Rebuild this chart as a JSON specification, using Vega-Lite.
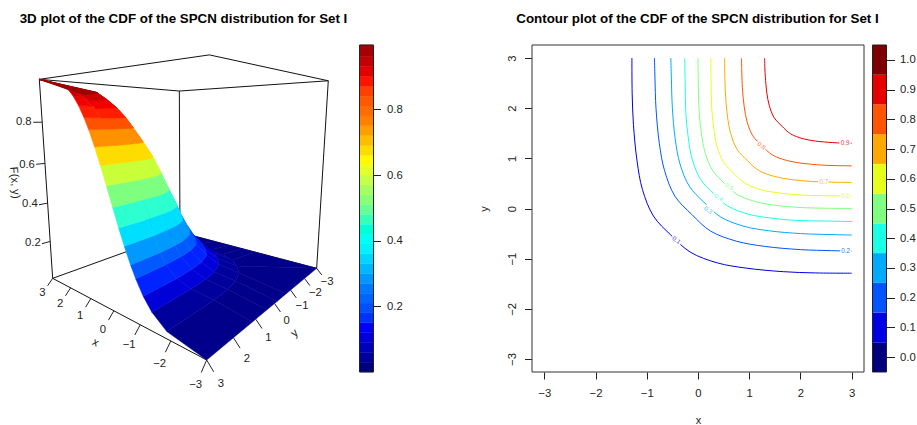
{"$schema":"https://vega.github.io/schema/vega-lite/v6.json","width":917,"height":425,"padding":0,"autosize":{"type":"none"},"background":"white",
"config":{"view":{"stroke":null},"axis":{"grid":false,"labelFont":"Liberation Sans","labelFontSize":11.3,"labelColor":"#222","tickColor":"#222","titleFont":"Liberation Sans","titleFontSize":11,"titleFontWeight":"normal","titleColor":"#222"},"text":{"font":"Liberation Sans","fontSize":11.3,"color":"#222"}},
"datasets":{
"d3":[
{"k":0,"i":10,"x":3,"y":-3,"F":0},{"k":0,"i":9,"x":1.16,"y":-3,"F":0},{"k":0,"i":8,"x":0.42,"y":-3,"F":0},{"k":0,"i":7,"x":-0.16,"y":-3,"F":0},{"k":0,"i":6,"x":-0.71,"y":-3,"F":0},{"k":0,"i":5,"x":-3,"y":-3,"F":0},{"k":0,"i":4,"x":-3,"y":-0.71,"F":0},{"k":0,"i":3,"x":-3,"y":-0.16,"F":0},{"k":0,"i":2,"x":-3,"y":0.42,"F":0},{"k":0,"i":1,"x":-3,"y":1.16,"F":0},{"k":0,"i":0,"x":-3,"y":3,"F":0},
{"k":1,"i":10,"x":3,"y":-1.88,"F":0.03},{"k":1,"i":9,"x":1.16,"y":-1.85,"F":0.03},{"k":1,"i":8,"x":0.42,"y":-1.78,"F":0.03},{"k":1,"i":7,"x":-0.16,"y":-1.67,"F":0.03},{"k":1,"i":6,"x":-0.71,"y":-1.45,"F":0.03},{"k":1,"i":5,"x":-1.1,"y":-1.1,"F":0.03},{"k":1,"i":4,"x":-1.45,"y":-0.71,"F":0.03},{"k":1,"i":3,"x":-1.67,"y":-0.16,"F":0.03},{"k":1,"i":2,"x":-1.78,"y":0.42,"F":0.03},{"k":1,"i":1,"x":-1.85,"y":1.16,"F":0.03},{"k":1,"i":0,"x":-1.88,"y":3,"F":0.03},
{"k":2,"i":10,"x":3,"y":-1.405,"F":0.08},{"k":2,"i":9,"x":1.54,"y":-1.375,"F":0.08},{"k":2,"i":8,"x":0.82,"y":-1.307,"F":0.08},{"k":2,"i":7,"x":0.256,"y":-1.2,"F":0.08},{"k":2,"i":6,"x":-0.27,"y":-0.99,"F":0.08},{"k":2,"i":5,"x":-0.65,"y":-0.65,"F":0.08},{"k":2,"i":4,"x":-0.99,"y":-0.27,"F":0.08},{"k":2,"i":3,"x":-1.2,"y":0.256,"F":0.08},{"k":2,"i":2,"x":-1.307,"y":0.82,"F":0.08},{"k":2,"i":1,"x":-1.375,"y":1.54,"F":0.08},{"k":2,"i":0,"x":-1.405,"y":3,"F":0.08},
{"k":3,"i":10,"x":3,"y":-1.126,"F":0.13},{"k":3,"i":9,"x":1.78,"y":-1.096,"F":0.13},{"k":3,"i":8,"x":1.075,"y":-1.03,"F":0.13},{"k":3,"i":7,"x":0.515,"y":-0.925,"F":0.13},{"k":3,"i":6,"x":-0.007,"y":-0.716,"F":0.13},{"k":3,"i":5,"x":-0.38,"y":-0.38,"F":0.13},{"k":3,"i":4,"x":-0.716,"y":-0.007,"F":0.13},{"k":3,"i":3,"x":-0.925,"y":0.515,"F":0.13},{"k":3,"i":2,"x":-1.03,"y":1.075,"F":0.13},{"k":3,"i":1,"x":-1.096,"y":1.78,"F":0.13},{"k":3,"i":0,"x":-1.126,"y":3,"F":0.13},
{"k":4,"i":10,"x":3,"y":-0.878,"F":0.19},{"k":4,"i":9,"x":1.94,"y":-0.85,"F":0.19},{"k":4,"i":8,"x":1.255,"y":-0.784,"F":0.19},{"k":4,"i":7,"x":0.713,"y":-0.683,"F":0.19},{"k":4,"i":6,"x":0.207,"y":-0.48,"F":0.19},{"k":4,"i":5,"x":-0.155,"y":-0.155,"F":0.19},{"k":4,"i":4,"x":-0.48,"y":0.207,"F":0.19},{"k":4,"i":3,"x":-0.683,"y":0.713,"F":0.19},{"k":4,"i":2,"x":-0.784,"y":1.255,"F":0.19},{"k":4,"i":1,"x":-0.85,"y":1.94,"F":0.19},{"k":4,"i":0,"x":-0.878,"y":3,"F":0.19},
{"k":5,"i":10,"x":3,"y":-0.706,"F":0.24},{"k":5,"i":9,"x":1.97,"y":-0.68,"F":0.24},{"k":5,"i":8,"x":1.318,"y":-0.617,"F":0.24},{"k":5,"i":7,"x":0.803,"y":-0.521,"F":0.24},{"k":5,"i":6,"x":0.323,"y":-0.329,"F":0.24},{"k":5,"i":5,"x":-0.02,"y":-0.02,"F":0.24},{"k":5,"i":4,"x":-0.329,"y":0.323,"F":0.24},{"k":5,"i":3,"x":-0.521,"y":0.803,"F":0.24},{"k":5,"i":2,"x":-0.617,"y":1.318,"F":0.24},{"k":5,"i":1,"x":-0.68,"y":1.97,"F":0.24},{"k":5,"i":0,"x":-0.706,"y":3,"F":0.24},
{"k":6,"i":10,"x":3,"y":-0.496,"F":0.31},{"k":6,"i":9,"x":1.98,"y":-0.47,"F":0.31},{"k":6,"i":8,"x":1.38,"y":-0.413,"F":0.31},{"k":6,"i":7,"x":0.9,"y":-0.324,"F":0.31},{"k":6,"i":6,"x":0.458,"y":-0.146,"F":0.31},{"k":6,"i":5,"x":0.14,"y":0.14,"F":0.31},{"k":6,"i":4,"x":-0.146,"y":0.458,"F":0.31},{"k":6,"i":3,"x":-0.324,"y":0.9,"F":0.31},{"k":6,"i":2,"x":-0.413,"y":1.38,"F":0.31},{"k":6,"i":1,"x":-0.47,"y":1.98,"F":0.31},{"k":6,"i":0,"x":-0.496,"y":3,"F":0.31},
{"k":7,"i":10,"x":3,"y":-0.305,"F":0.38},{"k":7,"i":9,"x":1.92,"y":-0.28,"F":0.38},{"k":7,"i":8,"x":1.377,"y":-0.23,"F":0.38},{"k":7,"i":7,"x":0.949,"y":-0.151,"F":0.38},{"k":7,"i":6,"x":0.55,"y":0.009,"F":0.38},{"k":7,"i":5,"x":0.265,"y":0.265,"F":0.38},{"k":7,"i":4,"x":0.009,"y":0.55,"F":0.38},{"k":7,"i":3,"x":-0.151,"y":0.949,"F":0.38},{"k":7,"i":2,"x":-0.23,"y":1.377,"F":0.38},{"k":7,"i":1,"x":-0.28,"y":1.92,"F":0.38},{"k":7,"i":0,"x":-0.305,"y":3,"F":0.38},
{"k":8,"i":10,"x":3,"y":-0.1,"F":0.46},{"k":8,"i":9,"x":1.97,"y":-0.08,"F":0.46},{"k":8,"i":8,"x":1.46,"y":-0.03,"F":0.46},{"k":8,"i":7,"x":1.066,"y":0.043,"F":0.46},{"k":8,"i":6,"x":0.695,"y":0.19,"F":0.46},{"k":8,"i":5,"x":0.43,"y":0.43,"F":0.46},{"k":8,"i":4,"x":0.19,"y":0.695,"F":0.46},{"k":8,"i":3,"x":0.043,"y":1.066,"F":0.46},{"k":8,"i":2,"x":-0.03,"y":1.46,"F":0.46},{"k":8,"i":1,"x":-0.08,"y":1.97,"F":0.46},{"k":8,"i":0,"x":-0.1,"y":3,"F":0.46},
{"k":9,"i":10,"x":3,"y":0.113,"F":0.545},{"k":9,"i":9,"x":1.99,"y":0.132,"F":0.545},{"k":9,"i":8,"x":1.535,"y":0.176,"F":0.545},{"k":9,"i":7,"x":1.173,"y":0.243,"F":0.545},{"k":9,"i":6,"x":0.836,"y":0.378,"F":0.545},{"k":9,"i":5,"x":0.595,"y":0.595,"F":0.545},{"k":9,"i":4,"x":0.378,"y":0.836,"F":0.545},{"k":9,"i":3,"x":0.243,"y":1.173,"F":0.545},{"k":9,"i":2,"x":0.176,"y":1.535,"F":0.545},{"k":9,"i":1,"x":0.132,"y":1.99,"F":0.545},{"k":9,"i":0,"x":0.113,"y":3,"F":0.545},
{"k":10,"i":10,"x":3,"y":0.319,"F":0.625},{"k":10,"i":9,"x":2.04,"y":0.337,"F":0.625},{"k":10,"i":8,"x":1.62,"y":0.376,"F":0.625},{"k":10,"i":7,"x":1.289,"y":0.438,"F":0.625},{"k":10,"i":6,"x":0.98,"y":0.562,"F":0.625},{"k":10,"i":5,"x":0.76,"y":0.76,"F":0.625},{"k":10,"i":4,"x":0.562,"y":0.98,"F":0.625},{"k":10,"i":3,"x":0.438,"y":1.289,"F":0.625},{"k":10,"i":2,"x":0.376,"y":1.62,"F":0.625},{"k":10,"i":1,"x":0.337,"y":2.04,"F":0.625},{"k":10,"i":0,"x":0.319,"y":3,"F":0.625},
{"k":11,"i":10,"x":3,"y":0.524,"F":0.7},{"k":11,"i":9,"x":2.22,"y":0.541,"F":0.7},{"k":11,"i":8,"x":1.81,"y":0.581,"F":0.7},{"k":11,"i":7,"x":1.483,"y":0.642,"F":0.7},{"k":11,"i":6,"x":1.178,"y":0.764,"F":0.7},{"k":11,"i":5,"x":0.96,"y":0.96,"F":0.7},{"k":11,"i":4,"x":0.764,"y":1.178,"F":0.7},{"k":11,"i":3,"x":0.642,"y":1.483,"F":0.7},{"k":11,"i":2,"x":0.581,"y":1.81,"F":0.7},{"k":11,"i":1,"x":0.541,"y":2.22,"F":0.7},{"k":11,"i":0,"x":0.524,"y":3,"F":0.7},
{"k":12,"i":10,"x":3,"y":0.739,"F":0.77},{"k":12,"i":9,"x":2.38,"y":0.756,"F":0.77},{"k":12,"i":8,"x":1.98,"y":0.794,"F":0.77},{"k":12,"i":7,"x":1.665,"y":0.853,"F":0.77},{"k":12,"i":6,"x":1.37,"y":0.971,"F":0.77},{"k":12,"i":5,"x":1.16,"y":1.16,"F":0.77},{"k":12,"i":4,"x":0.971,"y":1.37,"F":0.77},{"k":12,"i":3,"x":0.853,"y":1.665,"F":0.77},{"k":12,"i":2,"x":0.794,"y":1.98,"F":0.77},{"k":12,"i":1,"x":0.756,"y":2.38,"F":0.77},{"k":12,"i":0,"x":0.739,"y":3,"F":0.77},
{"k":13,"i":10,"x":3,"y":0.915,"F":0.82},{"k":13,"i":9,"x":2.46,"y":0.931,"F":0.82},{"k":13,"i":8,"x":2.08,"y":0.966,"F":0.82},{"k":13,"i":7,"x":1.784,"y":1.022,"F":0.82},{"k":13,"i":6,"x":1.508,"y":1.132,"F":0.82},{"k":13,"i":5,"x":1.31,"y":1.31,"F":0.82},{"k":13,"i":4,"x":1.132,"y":1.508,"F":0.82},{"k":13,"i":3,"x":1.022,"y":1.784,"F":0.82},{"k":13,"i":2,"x":0.966,"y":2.08,"F":0.82},{"k":13,"i":1,"x":0.931,"y":2.46,"F":0.82},{"k":13,"i":0,"x":0.915,"y":3,"F":0.82},
{"k":14,"i":10,"x":3,"y":1.126,"F":0.87},{"k":14,"i":9,"x":2.59,"y":1.141,"F":0.87},{"k":14,"i":8,"x":2.23,"y":1.175,"F":0.87},{"k":14,"i":7,"x":1.949,"y":1.227,"F":0.87},{"k":14,"i":6,"x":1.687,"y":1.332,"F":0.87},{"k":14,"i":5,"x":1.5,"y":1.5,"F":0.87},{"k":14,"i":4,"x":1.332,"y":1.687,"F":0.87},{"k":14,"i":3,"x":1.227,"y":1.949,"F":0.87},{"k":14,"i":2,"x":1.175,"y":2.23,"F":0.87},{"k":14,"i":1,"x":1.141,"y":2.59,"F":0.87},{"k":14,"i":0,"x":1.126,"y":3,"F":0.87},
{"k":15,"i":10,"x":3,"y":1.34,"F":0.91},{"k":15,"i":9,"x":2.74,"y":1.354,"F":0.91},{"k":15,"i":8,"x":2.4,"y":1.387,"F":0.91},{"k":15,"i":7,"x":2.13,"y":1.437,"F":0.91},{"k":15,"i":6,"x":1.88,"y":1.538,"F":0.91},{"k":15,"i":5,"x":1.7,"y":1.7,"F":0.91},{"k":15,"i":4,"x":1.538,"y":1.88,"F":0.91},{"k":15,"i":3,"x":1.437,"y":2.13,"F":0.91},{"k":15,"i":2,"x":1.387,"y":2.4,"F":0.91},{"k":15,"i":1,"x":1.354,"y":2.74,"F":0.91},{"k":15,"i":0,"x":1.34,"y":3,"F":0.91},
{"k":16,"i":10,"x":3,"y":1.555,"F":0.94},{"k":16,"i":9,"x":2.82,"y":1.568,"F":0.94},{"k":16,"i":8,"x":2.51,"y":1.597,"F":0.94},{"k":16,"i":7,"x":2.27,"y":1.643,"F":0.94},{"k":16,"i":6,"x":2.04,"y":1.734,"F":0.94},{"k":16,"i":5,"x":1.88,"y":1.88,"F":0.94},{"k":16,"i":4,"x":1.734,"y":2.04,"F":0.94},{"k":16,"i":3,"x":1.643,"y":2.27,"F":0.94},{"k":16,"i":2,"x":1.597,"y":2.51,"F":0.94},{"k":16,"i":1,"x":1.568,"y":2.82,"F":0.94},{"k":16,"i":0,"x":1.555,"y":3,"F":0.94},
{"k":17,"i":10,"x":3,"y":3,"F":1},{"k":17,"i":9,"x":3,"y":3,"F":1},{"k":17,"i":8,"x":3,"y":3,"F":1},{"k":17,"i":7,"x":3,"y":3,"F":1},{"k":17,"i":6,"x":3,"y":3,"F":1},{"k":17,"i":5,"x":3,"y":3,"F":1},{"k":17,"i":4,"x":3,"y":3,"F":1},{"k":17,"i":3,"x":3,"y":3,"F":1},{"k":17,"i":2,"x":3,"y":3,"F":1},{"k":17,"i":1,"x":3,"y":3,"F":1},{"k":17,"i":0,"x":3,"y":3,"F":1},
{"edge":"t1","i":0,"x":3,"y":3,"F":1},{"edge":"t1","i":1,"x":-3,"y":3,"F":1},
{"edge":"t2","i":0,"x":-3,"y":3,"F":1},{"edge":"t2","i":1,"x":-3,"y":-3,"F":1},
{"edge":"t3","i":0,"x":-3,"y":-3,"F":1},{"edge":"t3","i":1,"x":3,"y":-3,"F":1},
{"edge":"t4","i":0,"x":3,"y":-3,"F":1},{"edge":"t4","i":1,"x":3,"y":3,"F":1},
{"edge":"v1","i":0,"x":3,"y":3,"F":1},{"edge":"v1","i":1,"x":3,"y":3,"F":0},
{"edge":"v2","i":0,"x":-3,"y":-3,"F":1},{"edge":"v2","i":1,"x":-3,"y":-3,"F":0},
{"edge":"v3","i":0,"x":3,"y":-3,"F":1},{"edge":"v3","i":1,"x":3,"y":-3,"F":0},
{"edge":"f1","i":0,"x":3,"y":3,"F":0},{"edge":"f1","i":1,"x":3,"y":-3,"F":0},
{"edge":"f2","i":0,"x":3,"y":-3,"F":0},{"edge":"f2","i":1,"x":-3,"y":-3,"F":0},
{"front":"a","i":0,"x":3,"y":3,"F":0},{"front":"a","i":1,"x":-3,"y":3,"F":0},
{"tick":"x3","i":0,"x":3,"y":3,"F":0},{"tick":"x3","i":1,"x":3,"y":3.18,"F":-0.03},
{"tick":"x2","i":0,"x":2,"y":3,"F":0},{"tick":"x2","i":1,"x":2,"y":3.18,"F":-0.03},
{"tick":"x1","i":0,"x":1,"y":3,"F":0},{"tick":"x1","i":1,"x":1,"y":3.18,"F":-0.03},
{"tick":"x0","i":0,"x":0,"y":3,"F":0},{"tick":"x0","i":1,"x":0,"y":3.18,"F":-0.03},
{"tick":"x-1","i":0,"x":-1,"y":3,"F":0},{"tick":"x-1","i":1,"x":-1,"y":3.18,"F":-0.03},
{"tick":"x-2","i":0,"x":-2,"y":3,"F":0},{"tick":"x-2","i":1,"x":-2,"y":3.18,"F":-0.03},
{"tick":"x-3","i":0,"x":-3,"y":3,"F":0},{"tick":"x-3","i":1,"x":-3,"y":3.18,"F":-0.03},
{"tick":"y3","i":0,"x":-3,"y":3,"F":0},{"tick":"y3","i":1,"x":-3.18,"y":3,"F":-0.03},
{"tick":"y2","i":0,"x":-3,"y":2,"F":0},{"tick":"y2","i":1,"x":-3.18,"y":2,"F":-0.03},
{"tick":"y1","i":0,"x":-3,"y":1,"F":0},{"tick":"y1","i":1,"x":-3.18,"y":1,"F":-0.03},
{"tick":"y0","i":0,"x":-3,"y":0,"F":0},{"tick":"y0","i":1,"x":-3.18,"y":0,"F":-0.03},
{"tick":"y-1","i":0,"x":-3,"y":-1,"F":0},{"tick":"y-1","i":1,"x":-3.18,"y":-1,"F":-0.03},
{"tick":"y-2","i":0,"x":-3,"y":-2,"F":0},{"tick":"y-2","i":1,"x":-3.18,"y":-2,"F":-0.03},
{"tick":"y-3","i":0,"x":-3,"y":-3,"F":0},{"tick":"y-3","i":1,"x":-3.18,"y":-3,"F":-0.03},
{"tick":"z2","i":0,"x":3,"y":3,"F":0.2},{"tick":"z2","i":1,"x":3,"y":3.27,"F":0.2},
{"tick":"z4","i":0,"x":3,"y":3,"F":0.4},{"tick":"z4","i":1,"x":3,"y":3.27,"F":0.4},
{"tick":"z6","i":0,"x":3,"y":3,"F":0.6},{"tick":"z6","i":1,"x":3,"y":3.27,"F":0.6},
{"tick":"z8","i":0,"x":3,"y":3,"F":0.8},{"tick":"z8","i":1,"x":3,"y":3.27,"F":0.8},
{"text":"3","x":3,"y":3.36,"F":-0.06},{"text":"2","x":2,"y":3.36,"F":-0.06},{"text":"1","x":1,"y":3.36,"F":-0.06},{"text":"0","x":0,"y":3.36,"F":-0.06},{"text":"−1","x":-1,"y":3.36,"F":-0.06},{"text":"−2","x":-2,"y":3.36,"F":-0.06},{"text":"−3","x":-3,"y":3.36,"F":-0.06},
{"text":"3","x":-3.36,"y":3,"F":-0.06},{"text":"2","x":-3.36,"y":2,"F":-0.06},{"text":"1","x":-3.36,"y":1,"F":-0.06},{"text":"0","x":-3.36,"y":0,"F":-0.06},{"text":"−1","x":-3.36,"y":-1,"F":-0.06},{"text":"−2","x":-3.36,"y":-2,"F":-0.06},{"text":"−3","x":-3.36,"y":-3,"F":-0.06},
{"text":"0.2","x":3,"y":3.54,"F":0.215},{"text":"0.4","x":3,"y":3.54,"F":0.41},{"text":"0.6","x":3,"y":3.54,"F":0.6},{"text":"0.8","x":3,"y":3.54,"F":0.8},
{"name":"x","x":0,"y":3.6,"F":-0.1},{"name":"y","x":-3.6,"y":0,"F":-0.105},{"name":"F(x, y)","x":3,"y":3.93,"F":0.525}
],
"lines":[
{"level":0.1,"i":0,"x":-1.29,"y":3},{"level":0.1,"i":1,"x":-1.285,"y":2.3},{"level":0.1,"i":2,"x":-1.26,"y":1.67},{"level":0.1,"i":3,"x":-1.19,"y":0.95},{"level":0.1,"i":4,"x":-1.085,"y":0.38},{"level":0.1,"i":5,"x":-0.87,"y":-0.15},{"level":0.1,"i":6,"x":-0.53,"y":-0.53},{"level":0.1,"i":7,"x":-0.15,"y":-0.87},{"level":0.1,"i":8,"x":0.38,"y":-1.085},{"level":0.1,"i":9,"x":0.95,"y":-1.19},{"level":0.1,"i":10,"x":1.67,"y":-1.26},{"level":0.1,"i":11,"x":2.3,"y":-1.285},{"level":0.1,"i":12,"x":3,"y":-1.29},
{"level":0.2,"i":0,"x":-0.85,"y":3},{"level":0.2,"i":1,"x":-0.84,"y":2.6},{"level":0.2,"i":2,"x":-0.82,"y":2},{"level":0.2,"i":3,"x":-0.755,"y":1.3},{"level":0.2,"i":4,"x":-0.653,"y":0.756},{"level":0.2,"i":5,"x":-0.45,"y":0.245},{"level":0.2,"i":6,"x":-0.12,"y":-0.12},{"level":0.2,"i":7,"x":0.245,"y":-0.45},{"level":0.2,"i":8,"x":0.756,"y":-0.653},{"level":0.2,"i":9,"x":1.3,"y":-0.755},{"level":0.2,"i":10,"x":2,"y":-0.82},{"level":0.2,"i":11,"x":2.6,"y":-0.84},{"level":0.2,"i":12,"x":3,"y":-0.85},
{"level":0.3,"i":0,"x":-0.53,"y":3},{"level":0.3,"i":1,"x":-0.52,"y":2.6},{"level":0.3,"i":2,"x":-0.5,"y":2},{"level":0.3,"i":3,"x":-0.445,"y":1.39},{"level":0.3,"i":4,"x":-0.355,"y":0.9},{"level":0.3,"i":5,"x":-0.17,"y":0.445},{"level":0.3,"i":6,"x":0.12,"y":0.12},{"level":0.3,"i":7,"x":0.445,"y":-0.17},{"level":0.3,"i":8,"x":0.9,"y":-0.355},{"level":0.3,"i":9,"x":1.39,"y":-0.445},{"level":0.3,"i":10,"x":2,"y":-0.5},{"level":0.3,"i":11,"x":2.6,"y":-0.52},{"level":0.3,"i":12,"x":3,"y":-0.53},
{"level":0.4,"i":0,"x":-0.26,"y":3},{"level":0.4,"i":1,"x":-0.25,"y":2.5},{"level":0.4,"i":2,"x":-0.238,"y":1.92},{"level":0.4,"i":3,"x":-0.187,"y":1.39},{"level":0.4,"i":4,"x":-0.11,"y":0.97},{"level":0.4,"i":5,"x":0.05,"y":0.58},{"level":0.4,"i":6,"x":0.3,"y":0.3},{"level":0.4,"i":7,"x":0.58,"y":0.05},{"level":0.4,"i":8,"x":0.97,"y":-0.11},{"level":0.4,"i":9,"x":1.39,"y":-0.187},{"level":0.4,"i":10,"x":1.92,"y":-0.238},{"level":0.4,"i":11,"x":2.5,"y":-0.25},{"level":0.4,"i":12,"x":3,"y":-0.26},
{"level":0.5,"i":0,"x":0,"y":3},{"level":0.5,"i":1,"x":0.005,"y":2.5},{"level":0.5,"i":2,"x":0.02,"y":1.99},{"level":0.5,"i":3,"x":0.066,"y":1.5},{"level":0.5,"i":4,"x":0.138,"y":1.12},{"level":0.5,"i":5,"x":0.28,"y":0.765},{"level":0.5,"i":6,"x":0.51,"y":0.51},{"level":0.5,"i":7,"x":0.765,"y":0.28},{"level":0.5,"i":8,"x":1.12,"y":0.138},{"level":0.5,"i":9,"x":1.5,"y":0.066},{"level":0.5,"i":10,"x":1.99,"y":0.02},{"level":0.5,"i":11,"x":2.5,"y":0.005},{"level":0.5,"i":12,"x":3,"y":0},
{"level":0.6,"i":0,"x":0.25,"y":3},{"level":0.6,"i":1,"x":0.255,"y":2.5},{"level":0.6,"i":2,"x":0.268,"y":2},{"level":0.6,"i":3,"x":0.31,"y":1.58},{"level":0.6,"i":4,"x":0.37,"y":1.24},{"level":0.6,"i":5,"x":0.4975,"y":0.925},{"level":0.6,"i":6,"x":0.7,"y":0.7},{"level":0.6,"i":7,"x":0.925,"y":0.4975},{"level":0.6,"i":8,"x":1.24,"y":0.37},{"level":0.6,"i":9,"x":1.58,"y":0.31},{"level":0.6,"i":10,"x":2,"y":0.268},{"level":0.6,"i":11,"x":2.5,"y":0.255},{"level":0.6,"i":12,"x":3,"y":0.25},
{"level":0.7,"i":0,"x":0.52,"y":3},{"level":0.7,"i":1,"x":0.525,"y":2.6},{"level":0.7,"i":2,"x":0.538,"y":2.24},{"level":0.7,"i":3,"x":0.577,"y":1.82},{"level":0.7,"i":4,"x":0.64,"y":1.49},{"level":0.7,"i":5,"x":0.762,"y":1.18},{"level":0.7,"i":6,"x":0.96,"y":0.96},{"level":0.7,"i":7,"x":1.18,"y":0.762},{"level":0.7,"i":8,"x":1.49,"y":0.64},{"level":0.7,"i":9,"x":1.82,"y":0.577},{"level":0.7,"i":10,"x":2.24,"y":0.538},{"level":0.7,"i":11,"x":2.6,"y":0.525},{"level":0.7,"i":12,"x":3,"y":0.52},
{"level":0.8,"i":0,"x":0.85,"y":3},{"level":0.8,"i":1,"x":0.855,"y":2.7},{"level":0.8,"i":2,"x":0.866,"y":2.41},{"level":0.8,"i":3,"x":0.902,"y":2.03},{"level":0.8,"i":4,"x":0.958,"y":1.73},{"level":0.8,"i":5,"x":1.07,"y":1.45},{"level":0.8,"i":6,"x":1.25,"y":1.25},{"level":0.8,"i":7,"x":1.45,"y":1.07},{"level":0.8,"i":8,"x":1.73,"y":0.958},{"level":0.8,"i":9,"x":2.03,"y":0.902},{"level":0.8,"i":10,"x":2.41,"y":0.866},{"level":0.8,"i":11,"x":2.7,"y":0.855},{"level":0.8,"i":12,"x":3,"y":0.85},
{"level":0.9,"i":0,"x":1.3,"y":3},{"level":0.9,"i":1,"x":1.305,"y":2.8},{"level":0.9,"i":2,"x":1.314,"y":2.63},{"level":0.9,"i":3,"x":1.344,"y":2.3},{"level":0.9,"i":4,"x":1.392,"y":2.05},{"level":0.9,"i":5,"x":1.487,"y":1.81},{"level":0.9,"i":6,"x":1.64,"y":1.64},{"level":0.9,"i":7,"x":1.81,"y":1.487},{"level":0.9,"i":8,"x":2.05,"y":1.392},{"level":0.9,"i":9,"x":2.3,"y":1.344},{"level":0.9,"i":10,"x":2.63,"y":1.314},{"level":0.9,"i":11,"x":2.8,"y":1.305},{"level":0.9,"i":12,"x":3,"y":1.3}
],
"lineLabels":[
{"level":0.1,"label":"0.1","x":-0.42,"y":-0.63},{"level":0.2,"label":"0.2","x":2.88,"y":-0.855},{"level":0.3,"label":"0.3","x":0.2,"y":-0.03},{"level":0.4,"label":"0.4","x":0.407,"y":0.216},{"level":0.5,"label":"0.5","x":0.615,"y":0.435},{"level":0.6,"label":"0.6","x":2.88,"y":0.256},{"level":0.7,"label":"0.7","x":2.457,"y":0.535},{"level":0.8,"label":"0.8","x":1.24,"y":1.254},{"level":0.9,"label":"0.9","x":2.87,"y":1.3}
],
"bar3d":[
{"lo":0,"hi":0.03},{"lo":0.03,"hi":0.06},{"lo":0.06,"hi":0.09},{"lo":0.09,"hi":0.12},{"lo":0.12,"hi":0.15},{"lo":0.15,"hi":0.18},{"lo":0.18,"hi":0.21},{"lo":0.21,"hi":0.24},{"lo":0.24,"hi":0.27},{"lo":0.27,"hi":0.3},{"lo":0.3,"hi":0.33},{"lo":0.33,"hi":0.36},{"lo":0.36,"hi":0.39},{"lo":0.39,"hi":0.42},{"lo":0.42,"hi":0.45},{"lo":0.45,"hi":0.48},{"lo":0.48,"hi":0.51},{"lo":0.51,"hi":0.54},{"lo":0.54,"hi":0.57},{"lo":0.57,"hi":0.6},{"lo":0.6,"hi":0.63},{"lo":0.63,"hi":0.66},{"lo":0.66,"hi":0.69},{"lo":0.69,"hi":0.72},{"lo":0.72,"hi":0.75},{"lo":0.75,"hi":0.78},{"lo":0.78,"hi":0.81},{"lo":0.81,"hi":0.84},{"lo":0.84,"hi":0.87},{"lo":0.87,"hi":0.9},{"lo":0.9,"hi":0.93},{"lo":0.93,"hi":0.96},{"lo":0.96,"hi":0.996}
],
"barContour":[
{"level":0,"lo":-0.05,"hi":0.05},{"level":0.1,"lo":0.05,"hi":0.15},{"level":0.2,"lo":0.15,"hi":0.25},{"level":0.3,"lo":0.25,"hi":0.35},{"level":0.4,"lo":0.35,"hi":0.45},{"level":0.5,"lo":0.45,"hi":0.55},{"level":0.6,"lo":0.55,"hi":0.65},{"level":0.7,"lo":0.65,"hi":0.75},{"level":0.8,"lo":0.75,"hi":0.85},{"level":0.9,"lo":0.85,"hi":0.95},{"level":1,"lo":0.95,"hi":1.05}
]
},
"layer":[
{"data":{"name":"d3"},
 "transform":[
  {"calculate":"(3-datum.x)/6","as":"u"},{"calculate":"(3-datum.y)/6","as":"v"},
  {"calculate":"1-0.3407*datum.u+0.401*datum.v-0.0888*datum.F","as":"D"},
  {"calculate":"(158+250.8*datum.u+598.5*datum.v-50.5*datum.F)/datum.D","as":"sx"},
  {"calculate":"(745-92.3*datum.u+105.4*datum.v-610.1*datum.F)/datum.D","as":"sy"}],
 "encoding":{
  "x":{"field":"sx","type":"quantitative","scale":{"domain":[0,1020],"range":[0,340],"nice":false,"zero":false},"axis":{"orient":"top","title":"3D plot of the CDF of the SPCN distribution for Set I","titleFont":"Liberation Sans","titleFontWeight":"bold","titleFontSize":13.35,"titleColor":"#000","titleX":183,"titleY":22,"titleBaseline":"alphabetic","labels":false,"ticks":false,"domain":false}},
  "y":{"field":"sy","type":"quantitative","scale":{"domain":[0,1140],"range":[30,410],"nice":false,"zero":false},"axis":null}},
 "layer":[
  {"transform":[{"filter":"isValid(datum.edge)"}],"mark":{"type":"line","stroke":"#111","strokeWidth":1},"encoding":{"detail":{"field":"edge"},"order":{"field":"i"}}},
  {"transform":[{"filter":"isValid(datum.k)"},{"calculate":"[datum.k,datum.k-1]","as":"band"},{"flatten":["band"]},{"filter":"datum.band>=0&&datum.band<=16"},{"calculate":"[datum.i,datum.i-1]","as":"seg"},{"flatten":["seg"]},{"filter":"datum.seg>=0&&datum.seg<=9"},{"calculate":"datum.band==datum.k?datum.i:1000-datum.i","as":"ord"},{"calculate":"datum.band+'_'+datum.seg","as":"quad"}],
   "mark":{"type":"line","interpolate":"linear-closed","strokeWidth":0.5},
   "encoding":{"detail":{"field":"quad"},"order":{"field":"ord"},
    "fill":{"field":"band","type":"nominal","legend":null,"scale":{"domain":[0,1,2,3,4,5,6,7,8,9,10,11,12,13,14,15,16],"range":["#00008b","#00009c","#0000d8","#0023ff","#005aff","#0099ff","#00dfff","#2dffd1","#7fff7f","#c8ff38","#ffdc00","#ff9000","#ff5200","#ff1e00","#f00000","#cc0000","#9e0000"]}},
    "stroke":{"field":"band","type":"nominal","legend":null,"scale":{"domain":[0,1,2,3,4,5,6,7,8,9,10,11,12,13,14,15,16],"range":["#00008b","#00009c","#0000d8","#0023ff","#005aff","#0099ff","#00dfff","#2dffd1","#7fff7f","#c8ff38","#ffdc00","#ff9000","#ff5200","#ff1e00","#f00000","#cc0000","#9e0000"]}}}},
  {"transform":[{"filter":"isValid(datum.front)"}],"mark":{"type":"line","stroke":"#111","strokeWidth":1},"encoding":{"detail":{"field":"front"},"order":{"field":"i"}}},
  {"transform":[{"filter":"isValid(datum.tick)"}],"mark":{"type":"line","stroke":"#222","strokeWidth":1},"encoding":{"detail":{"field":"tick"},"order":{"field":"i"}}},
  {"transform":[{"filter":"isValid(datum.text)"}],"mark":{"type":"text"},"encoding":{"text":{"field":"text"}}},
  {"transform":[{"filter":"isValid(datum.name)"}],"mark":{"type":"text"},"encoding":{"text":{"field":"name"},"angle":{"condition":[{"test":"datum.name=='x'","value":28},{"test":"datum.name=='y'","value":320}],"value":85}}}
 ]},
{"data":{"name":"bar3d"},
 "encoding":{
  "x":{"datum":0,"type":"quantitative","scale":{"domain":[0,1],"range":[359.5,373.5],"nice":false,"zero":false},"axis":null},
  "x2":{"datum":1},
  "y":{"field":"lo","type":"quantitative","scale":{"domain":[0,0.996],"range":[372,45],"nice":false,"zero":false},"axis":{"orient":"right","offset":-543.5,"values":[0.2,0.4,0.6,0.8],"format":".1f","title":null,"domain":false,"tickSize":7,"labelPadding":6}},
  "y2":{"field":"hi"}},
 "layer":[
  {"mark":{"type":"rect","strokeWidth":0.4},"encoding":{
    "color":{"field":"lo","type":"quantitative","legend":null,"scale":{"domain":[0,0.125,0.25,0.375,0.5,0.625,0.75,0.875,1],"range":["#00007f","#0000ff","#007fff","#00ffff","#7fff7f","#ffff00","#ff7f00","#ff0000","#7f0000"]}},
    "stroke":{"field":"lo","type":"quantitative","legend":null,"scale":{"domain":[0,0.125,0.25,0.375,0.5,0.625,0.75,0.875,1],"range":["#00007f","#0000ff","#007fff","#00ffff","#7fff7f","#ffff00","#ff7f00","#ff0000","#7f0000"]}}}},
  {"data":{"values":[{"lo":0,"hi":0.996}]},"mark":{"type":"rect","fill":null,"stroke":"#222","strokeWidth":1}}
 ]},
{"data":{"values":[{"x":-3.24,"x2":3.24,"y":-3.26,"y2":3.26}]},
 "mark":{"type":"rect","fill":null,"stroke":"#333","strokeWidth":1},
 "encoding":{
  "x":{"field":"x","type":"quantitative","scale":{"domain":[-3.24,3.24],"range":[532,864],"nice":false,"zero":false},"axis":{"orient":"top","title":"Contour plot of the CDF of the SPCN distribution for Set I","titleFont":"Liberation Sans","titleFontWeight":"bold","titleFontSize":13.35,"titleColor":"#000","titleX":697,"titleY":22,"titleBaseline":"alphabetic","labels":false,"ticks":false,"domain":false}},
  "x2":{"field":"x2"},
  "y":{"field":"y","type":"quantitative","scale":{"domain":[-3.26,3.26],"range":[372,45],"nice":false,"zero":false},"axis":null},
  "y2":{"field":"y2"}}},
{"encoding":{
  "x":{"field":"x","type":"quantitative","scale":{"domain":[-3.24,3.24],"range":[532,864],"nice":false,"zero":false},"axis":{"orient":"bottom","offset":-53,"values":[-3,-2,-1,0,1,2,3],"title":"x","domain":false,"tickSize":7,"labelPadding":8,"titlePadding":16}},
  "y":{"field":"y","type":"quantitative","scale":{"domain":[-3.26,3.26],"range":[372,45],"nice":false,"zero":false},"axis":{"orient":"left","offset":-531.5,"values":[-3,-2,-1,0,1,2,3],"title":"y","domain":false,"tickSize":7,"labelAngle":270,"labelAlign":"center","labelBaseline":"bottom","labelPadding":7,"titlePadding":17}}},
 "layer":[
  {"data":{"name":"lines"},"mark":{"type":"line","interpolate":"catmull-rom","strokeWidth":1},"encoding":{"detail":{"field":"level"},"order":{"field":"i"},
    "color":{"field":"level","type":"nominal","legend":null,"scale":{"domain":[0.1,0.2,0.3,0.4,0.5,0.6,0.7,0.8,0.9],"range":["#0000e6","#0055ff","#00aaff","#1affe5","#80ff80","#e5ff1a","#ffaa00","#ff5500","#e60000"]}}}},
  {"data":{"name":"lineLabels"},"mark":{"type":"text","fontSize":6.3,"stroke":"white","strokeWidth":3},"encoding":{"text":{"field":"label"},"angle":{"condition":{"test":"datum.x<2","value":35},"value":0}}},
  {"data":{"name":"lineLabels"},"mark":{"type":"text","fontSize":6.3,"opacity":0.8},"encoding":{"text":{"field":"label"},"angle":{"condition":{"test":"datum.x<2","value":35},"value":0},
    "color":{"field":"level","type":"nominal","legend":null,"scale":{"domain":[0.1,0.2,0.3,0.4,0.5,0.6,0.7,0.8,0.9],"range":["#0000e6","#0055ff","#00aaff","#1affe5","#80ff80","#e5ff1a","#ffaa00","#ff5500","#e60000"]}}}}
 ]},
{"data":{"name":"barContour"},
 "encoding":{
  "x":{"datum":0,"type":"quantitative","scale":{"domain":[0,1],"range":[872.5,886.5],"nice":false,"zero":false},"axis":null},
  "x2":{"datum":1},
  "y":{"field":"lo","type":"quantitative","scale":{"domain":[-0.05,1.05],"range":[372,45],"nice":false,"zero":false},"axis":null},
  "y2":{"field":"hi"}},
 "layer":[
  {"mark":{"type":"rect"},"encoding":{"color":{"field":"level","type":"nominal","legend":null,"scale":{"domain":[0,0.1,0.2,0.3,0.4,0.5,0.6,0.7,0.8,0.9,1],"range":["#00007f","#0000e6","#0055ff","#00aaff","#1affe5","#80ff80","#e5ff1a","#ffaa00","#ff5500","#e60000","#7f0000"]}}}},
  {"data":{"values":[{"lo":-0.05,"hi":1.05}]},"mark":{"type":"rect","fill":null,"stroke":"#222","strokeWidth":1}}
 ]},
{"data":{"values":[{"v":0},{"v":1}]},"mark":{"type":"point","opacity":0},
 "encoding":{
  "y":{"field":"v","type":"quantitative","scale":{"domain":[-0.05,1.05],"range":[372,45],"nice":false,"zero":false},"axis":{"orient":"right","offset":-30.5,"values":[0,0.1,0.2,0.3,0.4,0.5,0.6,0.7,0.8,0.9,1],"format":".1f","title":null,"domain":false,"tickSize":8,"labelPadding":5}}}}
],
"resolve":{"scale":{"x":"independent","y":"independent","color":"independent","fill":"independent","stroke":"independent"},"axis":{"x":"independent","y":"independent"}}
}
